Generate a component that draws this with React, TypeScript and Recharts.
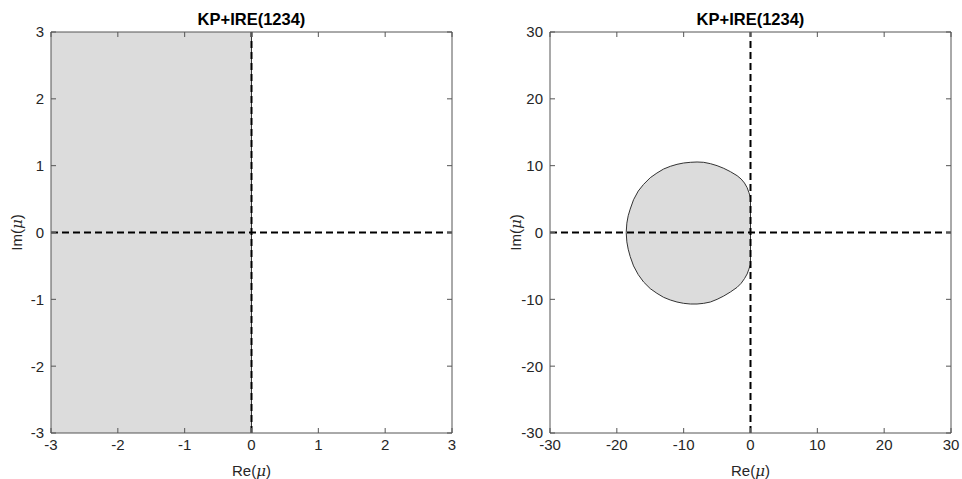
import { ComposedChart, Area, XAxis, YAxis, ReferenceLine } from 'recharts';

// left panel: the whole left half plane is shaded
const leftRe = [-3, 0];
const leftImUpper = [3, 3];
const leftImLower = [-3, -3];
const leftTicks = [-3, -2, -1, 0, 1, 2, 3];

// right panel: bounded region
const rightRe = [-18.6, -18.5, -18.3, -18, -17.5, -16.8, -16, -15, -14, -13, -12, -11, -10, -9, -8, -7, -6, -5, -4, -3, -2, -1.4, -0.9, -0.5, -0.25, -0.08, 0];
const rightImUpper = [0, 1.4, 2.5, 3.5, 4.9, 6.2, 7.2, 8.2, 8.9, 9.5, 9.9, 10.2, 10.4, 10.5, 10.55, 10.5, 10.3, 10.0, 9.6, 9.1, 8.5, 8.0, 7.4, 6.7, 6.0, 5.5, 5.2];
const rightImLower = [0, -1.4, -2.5, -3.6, -5.0, -6.3, -7.4, -8.4, -9.1, -9.7, -10.1, -10.4, -10.6, -10.7, -10.7, -10.6, -10.4, -10.0, -9.5, -8.9, -8.2, -7.6, -6.9, -6.2, -5.5, -5.0, -4.8];
const rightTicks = [-30, -20, -10, 0, 10, 20, 30];

const TITLE = 'KP+IRE(1234)';
const AXIS_ZERO = 0;

const FONT = '"Liberation Sans", Arial, Helvetica, sans-serif';
const TEXT = '#262626';
const FRAME = '#555555';
const FILL = '#dcdcdc';
const TICK_LEN = 5;
const FS = 15;

const toRows = (re: number[], lo: number[], hi: number[]) =>
    re.map((r, i) => ({ re: r, im: [lo[i], hi[i]] }));

function BottomTick({ x, y, payload }: any) {
    return (
        <g>
            <line x1={x} x2={x} y1={y} y2={y - TICK_LEN} stroke={FRAME} />
            <text x={x} y={y + 17} textAnchor="middle" fill={TEXT} fontSize={FS} fontFamily={FONT}>
                {payload.value}
            </text>
        </g>
    );
}

function TopTick({ x, y }: any) {
    return <line x1={x} x2={x} y1={y} y2={y + TICK_LEN} stroke={FRAME} />;
}

function LeftTick({ x, y, payload }: any) {
    return (
        <g>
            <line x1={x} x2={x + TICK_LEN} y1={y} y2={y} stroke={FRAME} />
            <text x={x - 7} y={y} dy="0.36em" textAnchor="end" fill={TEXT} fontSize={FS} fontFamily={FONT}>
                {payload.value}
            </text>
        </g>
    );
}

function RightTick({ x, y }: any) {
    return <line x1={x} x2={x - TICK_LEN} y1={y} y2={y} stroke={FRAME} />;
}

function XLabel({ viewBox }: any) {
    const { x, y, width } = viewBox;
    return (
        <text x={x + width / 2} y={y + 43} textAnchor="middle" fill={TEXT} fontSize={FS} fontFamily={FONT}>
            Re(<tspan fontStyle="italic" fontFamily="'DejaVu Serif', serif">μ</tspan>)
        </text>
    );
}

function YLabel({ viewBox }: any) {
    const { x, y, width, height } = viewBox;
    const cx = x + width - 34;
    const cy = y + height / 2;
    return (
        <text x={cx} y={cy} dy="0.36em" textAnchor="middle" transform={`rotate(-90 ${cx} ${cy})`}
            fill={TEXT} fontSize={FS} fontFamily={FONT}>
            Im(<tspan fontStyle="italic" fontFamily="'DejaVu Serif', serif">μ</tspan>)
        </text>
    );
}

function TitleLabel({ viewBox }: any) {
    const { x, y, width } = viewBox;
    return (
        <text x={x + width / 2} y={y - 6} textAnchor="middle" fill="#000" fontSize={16.5}
            fontWeight="bold" fontFamily={FONT}>
            {TITLE}
        </text>
    );
}

interface PanelProps {
    re: number[];
    lo: number[];
    hi: number[];
    ticks: number[];
    marginLeft: number;
    marginRight: number;
    closeEdge?: boolean;
}

function Panel({ re, lo, hi, ticks, marginLeft, marginRight, closeEdge }: PanelProps) {
    const data = toRows(re, lo, hi);
    const domain = [ticks[0], ticks[ticks.length - 1]];
    const last = re.length - 1;
    return (
        <ComposedChart width={481} height={479} data={data}
            margin={{ top: 31, right: marginRight, bottom: 0, left: marginLeft }}>
            <XAxis type="number" dataKey="re" domain={domain} ticks={ticks} allowDataOverflow
                height={46} tickSize={0} tickMargin={0} tick={<BottomTick />}
                axisLine={{ stroke: FRAME }} label={{ content: XLabel }} />
            <XAxis xAxisId="top" orientation="top" type="number" dataKey="re" domain={domain} ticks={ticks}
                allowDataOverflow height={1} tickSize={0} tickMargin={0} tick={<TopTick />}
                axisLine={{ stroke: FRAME }} label={{ content: TitleLabel }} />
            <YAxis type="number" domain={domain} ticks={ticks} allowDataOverflow width={51}
                tickSize={0} tickMargin={0} tick={<LeftTick />} axisLine={{ stroke: FRAME }}
                label={{ content: YLabel }} />
            <YAxis yAxisId="right" orientation="right" type="number" domain={domain} ticks={ticks}
                allowDataOverflow width={1} tickSize={0} tickMargin={0} tick={<RightTick />}
                axisLine={{ stroke: FRAME }} />
            <Area type="linear" dataKey="im" fill={FILL} fillOpacity={1}
                stroke={closeEdge ? '#333' : 'none'} strokeWidth={1} isAnimationActive={false}
                dot={false} activeDot={false} />
            {closeEdge && (
                <ReferenceLine segment={[{ x: re[last], y: lo[last] }, { x: re[last], y: hi[last] }]}
                    stroke="#333" strokeWidth={1} />
            )}
            {!closeEdge && <ReferenceLine x={re[last]} stroke="#333" strokeWidth={1} />}
            <ReferenceLine x={AXIS_ZERO} stroke="#000" strokeWidth={2} strokeDasharray="7 4" />
            <ReferenceLine y={AXIS_ZERO} stroke="#000" strokeWidth={2} strokeDasharray="7 4" />
        </ComposedChart>
    );
}

export default function App() {
    return (
        <div style={{ position: 'absolute', left: 0, top: 0, width: 962, height: 479, background: '#fff' }}>
            <div style={{ position: 'absolute', left: 0, top: 0 }}>
                <Panel re={leftRe} lo={leftImLower} hi={leftImUpper} ticks={leftTicks}
                    marginLeft={0} marginRight={28} />
            </div>
            <div style={{ position: 'absolute', left: 481, top: 0 }}>
                <Panel re={rightRe} lo={rightImLower} hi={rightImUpper} ticks={rightTicks}
                    marginLeft={18} marginRight={10} closeEdge />
            </div>
        </div>
    );
}
